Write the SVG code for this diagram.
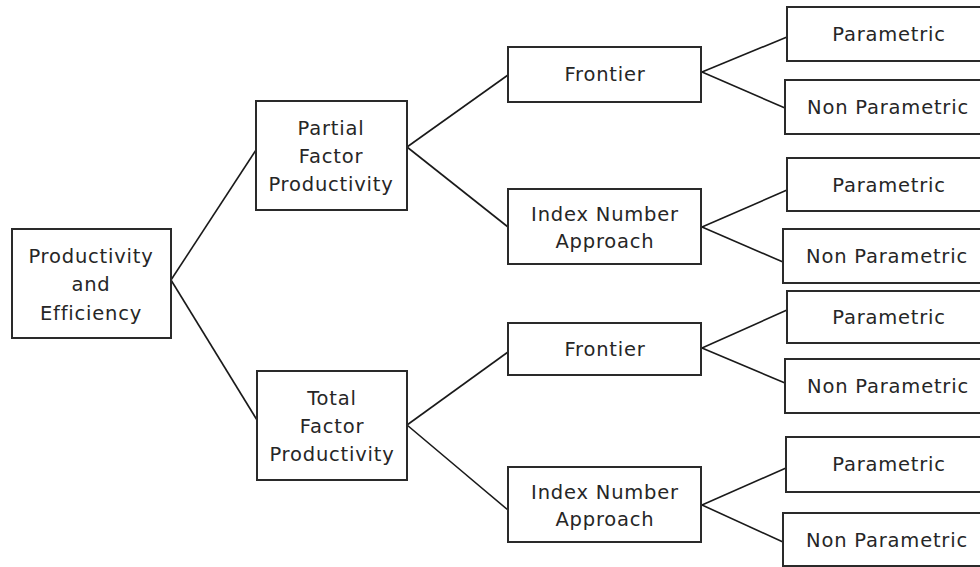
<svg xmlns="http://www.w3.org/2000/svg" width="980" height="567" viewBox="0 0 980 567">
<style>
rect{fill:#fff;stroke:#2a2a2a;stroke-width:2}
text{font-family:"DejaVu Sans","Liberation Sans",sans-serif;font-size:19.5px;letter-spacing:0.8px;fill:#262626;text-anchor:middle;dominant-baseline:central}
.c line{stroke:#1a1a1a;stroke-width:1.6}
</style>
<rect x="0" y="0" width="980" height="567" style="stroke:none"/>
<g class="c" id="connectors">
<line x1="171" y1="280" x2="256" y2="150"/>
<line x1="171" y1="280" x2="257" y2="420"/>
<line x1="407" y1="147" x2="508" y2="75"/>
<line x1="407" y1="147" x2="508" y2="227"/>
<line x1="407" y1="425" x2="508" y2="352"/>
<line x1="407" y1="425" x2="508" y2="510"/>
<line x1="702" y1="72" x2="787" y2="37"/>
<line x1="702" y1="72" x2="785" y2="108"/>
<line x1="702" y1="227" x2="787" y2="190"/>
<line x1="702" y1="227" x2="783" y2="262"/>
<line x1="702" y1="348" x2="787" y2="310"/>
<line x1="702" y1="348" x2="785" y2="383"/>
<line x1="702" y1="505" x2="786" y2="468"/>
<line x1="702" y1="505" x2="783" y2="542"/>
</g>
<g id="root"><rect x="12" y="229" width="159" height="109"/><text x="91" y="256">Productivity</text><text x="91" y="284">and</text><text x="91" y="313">Efficiency</text></g>
<g id="partial"><rect x="256" y="101" width="151" height="109"/><text x="331" y="128">Partial</text><text x="331" y="156">Factor</text><text x="331" y="184">Productivity</text></g>
<g id="total"><rect x="257" y="371" width="150" height="109"/><text x="332" y="398">Total</text><text x="332" y="426">Factor</text><text x="332" y="454">Productivity</text></g>
<g id="frontier1"><rect x="508" y="47" width="193" height="55"/><text x="605" y="74">Frontier</text></g>
<g id="index1"><rect x="508" y="189" width="193" height="75"/><text x="605" y="214">Index Number</text><text x="605" y="241">Approach</text></g>
<g id="frontier2"><rect x="508" y="323" width="193" height="52"/><text x="605" y="349">Frontier</text></g>
<g id="index2"><rect x="508" y="467" width="193" height="75"/><text x="605" y="492">Index Number</text><text x="605" y="519">Approach</text></g>
<g id="p1"><rect x="787" y="7" width="210" height="54"/><text x="889" y="34">Parametric</text></g>
<g id="np1"><rect x="785" y="80" width="210" height="54"/><text x="888" y="107">Non Parametric</text></g>
<g id="p2"><rect x="787" y="158" width="210" height="53"/><text x="889" y="185">Parametric</text></g>
<g id="np2"><rect x="783" y="229" width="210" height="54"/><text x="887" y="256">Non Parametric</text></g>
<g id="p3"><rect x="787" y="291" width="210" height="52"/><text x="889" y="317">Parametric</text></g>
<g id="np3"><rect x="785" y="359" width="210" height="54"/><text x="888" y="386">Non Parametric</text></g>
<g id="p4"><rect x="786" y="437" width="210" height="55"/><text x="889" y="464">Parametric</text></g>
<g id="np4"><rect x="783" y="513" width="210" height="53"/><text x="887" y="540">Non Parametric</text></g>
</svg>
